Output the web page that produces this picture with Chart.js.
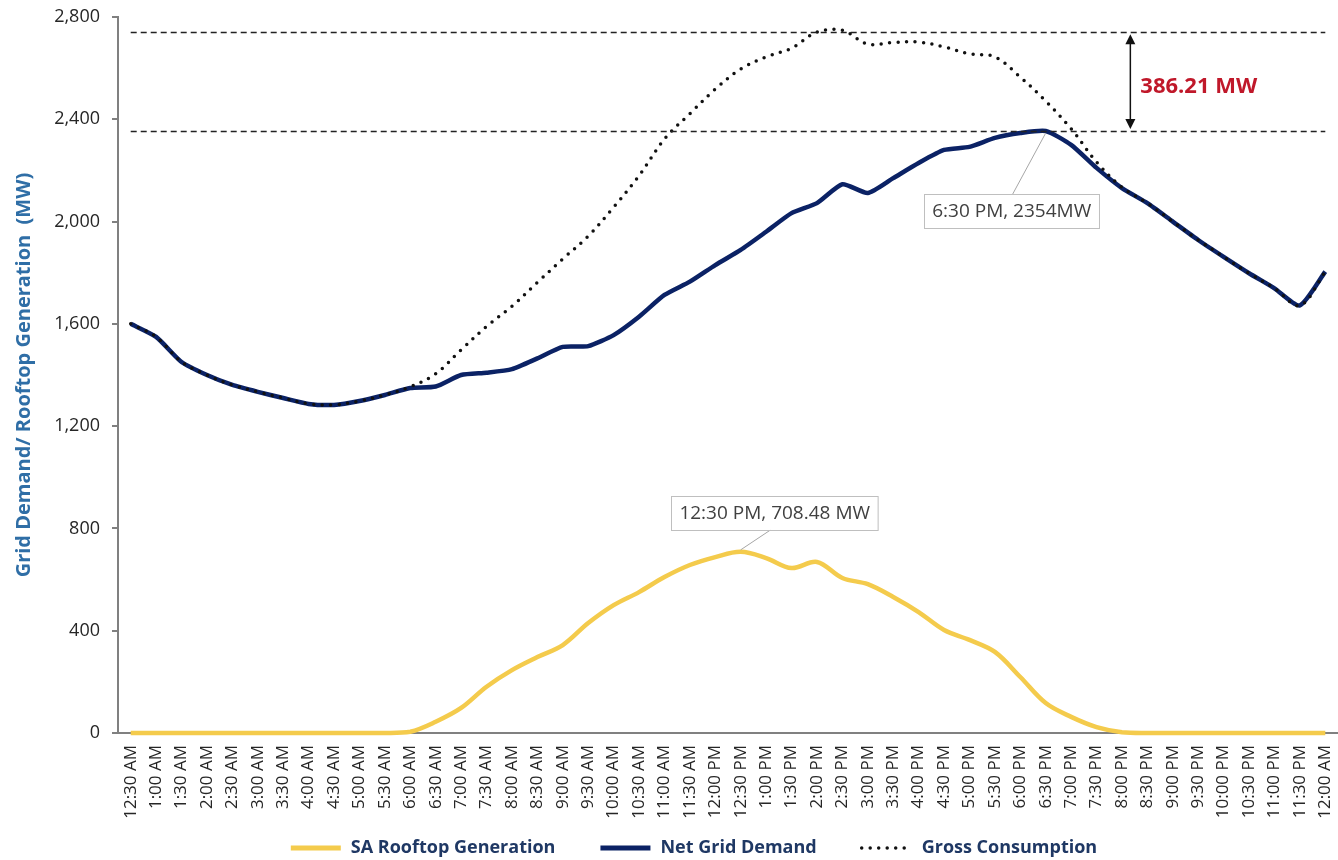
<!DOCTYPE html>
<html>
<head>
<meta charset="utf-8">
<script src="https://cdn.jsdelivr.net/npm/chart.js@4.4.1/dist/chart.umd.min.js"></script>
<style>
html, body { margin: 0; padding: 0; background: #fff; }
#caja { width: 1338px; height: 860px; position: relative; }
</style>
</head>
<body>
<div id="caja"><canvas id="grafico"></canvas></div>
<script>
// Datos
const horas = [
    '12:30 AM', '1:00 AM', '1:30 AM', '2:00 AM', '2:30 AM', '3:00 AM', '3:30 AM', '4:00 AM',
    '4:30 AM', '5:00 AM', '5:30 AM', '6:00 AM', '6:30 AM', '7:00 AM', '7:30 AM', '8:00 AM',
    '8:30 AM', '9:00 AM', '9:30 AM', '10:00 AM', '10:30 AM', '11:00 AM', '11:30 AM', '12:00 PM',
    '12:30 PM', '1:00 PM', '1:30 PM', '2:00 PM', '2:30 PM', '3:00 PM', '3:30 PM', '4:00 PM',
    '4:30 PM', '5:00 PM', '5:30 PM', '6:00 PM', '6:30 PM', '7:00 PM', '7:30 PM', '8:00 PM',
    '8:30 PM', '9:00 PM', '9:30 PM', '10:00 PM', '10:30 PM', '11:00 PM', '11:30 PM', '12:00 AM'
];

const techoSolar = [
    0, 0, 0, 0, 0, 0, 0, 0, 0, 0, 0, 5,
    44, 98, 181, 246, 297, 344, 430, 500, 551, 610, 657, 688,
    708.48, 684, 645, 669, 606, 582, 532, 473, 403, 364, 317, 219,
    117, 63, 23, 3, 0, 0, 0, 0, 0, 0, 0, 0
];

const demandaNeta = [
    1600, 1549, 1451, 1400, 1361, 1334, 1310, 1287, 1283, 1298, 1322, 1349,
    1355, 1400, 1409, 1423, 1465, 1510, 1513, 1556, 1628, 1713, 1765, 1830,
    1889, 1960, 2033, 2072, 2146, 2112, 2170, 2229, 2280, 2292, 2327, 2346,
    2354, 2300, 2210, 2131, 2072, 2000, 1928, 1862, 1798, 1739, 1672, 1804
];

const consumoBruto = [
    1600, 1549, 1451, 1400, 1361, 1334, 1310, 1287, 1283, 1298, 1322, 1354,
    1405, 1498, 1590, 1669, 1762, 1854, 1943, 2056, 2179, 2323, 2422, 2518,
    2597, 2644, 2678, 2741, 2748, 2694, 2700, 2702, 2683, 2656, 2644, 2565,
    2471, 2363, 2233, 2134, 2072, 2000, 1928, 1862, 1798, 1739, 1672, 1804
];

const ticksY = [0, 400, 800, 1200, 1600, 2000, 2400, 2800];
const nombresSerie = ['SA Rooftop Generation', 'Net Grid Demand', 'Gross Consumption'];
const tituloY = 'Grid Demand/ Rooftop Generation  (MW)';

const picoDemanda = { hora: '6:30 PM', valor: 2354, texto: '6:30 PM, 2354MW' };
const picoSolar = { hora: '12:30 PM', valor: 708.48, texto: '12:30 PM, 708.48 MW' };
const picoBruto = 2740.21;
const diferencia = '386.21 MW';

const colorSolar = '#F4CB4C';
const colorNeta = '#0B2265';
const colorBruto = '#111111';
const fuente = "'Open Sans', 'DejaVu Sans', sans-serif";

function cajaTexto(ctx, texto, cx, cy) {
    ctx.font = '19px ' + fuente;
    const w = ctx.measureText(texto).width + 16;
    const h = 34;
    ctx.fillStyle = '#fff';
    ctx.fillRect(cx - w / 2, cy - h / 2, w, h);
    ctx.strokeStyle = '#BFBFBF';
    ctx.lineWidth = 1;
    ctx.setLineDash([]);
    ctx.strokeRect(Math.round(cx - w / 2) + 0.5, Math.round(cy - h / 2) + 0.5, w, h);
    ctx.fillStyle = '#404040';
    ctx.textAlign = 'center';
    ctx.textBaseline = 'middle';
    ctx.fillText(texto, cx, cy + 1);
}

const anotaciones = {
    id: 'anotaciones',
    afterDatasetsDraw(chart) {
        const ctx = chart.ctx;
        const x = chart.scales.x;
        const y = chart.scales.y;
        const x0 = x.getPixelForValue(0);
        const x1 = x.getPixelForValue(horas.length - 1);
        const yAlto = y.getPixelForValue(picoBruto);
        const yPico = y.getPixelForValue(picoDemanda.valor);
        ctx.save();

        // lineas punteadas de referencia
        ctx.strokeStyle = '#222';
        ctx.lineWidth = 1.5;
        ctx.setLineDash([6, 4]);
        [yAlto, yPico].forEach(function (yy) {
            ctx.beginPath();
            ctx.moveTo(x0, Math.round(yy) + 0.5);
            ctx.lineTo(x1, Math.round(yy) + 0.5);
            ctx.stroke();
        });
        ctx.setLineDash([]);

        // flecha doble
        const xf = x.getPixelForValue(39.33);
        ctx.strokeStyle = '#111';
        ctx.fillStyle = '#111';
        ctx.lineWidth = 1.5;
        ctx.beginPath();
        ctx.moveTo(xf, yAlto + 8);
        ctx.lineTo(xf, yPico - 8);
        ctx.stroke();
        ctx.beginPath();
        ctx.moveTo(xf, yAlto + 2);
        ctx.lineTo(xf - 5, yAlto + 12);
        ctx.lineTo(xf + 5, yAlto + 12);
        ctx.closePath();
        ctx.fill();
        ctx.beginPath();
        ctx.moveTo(xf, yPico - 2);
        ctx.lineTo(xf - 5, yPico - 12);
        ctx.lineTo(xf + 5, yPico - 12);
        ctx.closePath();
        ctx.fill();

        ctx.font = 'bold 22px ' + fuente;
        ctx.fillStyle = '#C0182A';
        ctx.textAlign = 'left';
        ctx.textBaseline = 'middle';
        ctx.fillText(diferencia, xf + 10, (yAlto + yPico) / 2 + 5);

        // llamadas de los picos
        const pd = { x: x.getPixelForValue(horas.indexOf(picoDemanda.hora)), y: yPico };
        const ps = { x: x.getPixelForValue(horas.indexOf(picoSolar.hora)), y: y.getPixelForValue(picoSolar.valor) };
        ctx.strokeStyle = '#A6A6A6';
        ctx.lineWidth = 1;
        ctx.beginPath();
        ctx.moveTo(pd.x, pd.y + 2);
        ctx.lineTo(pd.x - 33, pd.y + 63);
        ctx.moveTo(ps.x, ps.y - 2);
        ctx.lineTo(ps.x + 30, ps.y - 22);
        ctx.stroke();
        cajaTexto(ctx, picoDemanda.texto, pd.x - 34, pd.y + 80);
        cajaTexto(ctx, picoSolar.texto, ps.x + 34, ps.y - 39);
        ctx.restore();
    },
    afterDraw(chart) {
        // leyenda propia
        const ctx = chart.ctx;
        const estilos = [
            { color: colorSolar, ancho: 5, dash: [], cap: 'butt' },
            { color: colorNeta, ancho: 5, dash: [], cap: 'butt' },
            { color: colorBruto, ancho: 3.5, dash: [0, 8.5], cap: 'round' }
        ];
        ctx.save();
        ctx.font = 'bold 18px ' + fuente;
        const anchos = nombresSerie.map(n => ctx.measureText(n).width);
        const total = anchos.reduce((a, b) => a + b, 0) + nombresSerie.length * 62 + (nombresSerie.length - 1) * 43;
        let px = 693 - total / 2;
        const py = 848;
        nombresSerie.forEach(function (n, i) {
            const e = estilos[i];
            ctx.strokeStyle = e.color;
            ctx.lineWidth = e.ancho;
            ctx.lineCap = e.cap;
            ctx.setLineDash(e.dash);
            ctx.beginPath();
            ctx.moveTo(px + 2, py);
            ctx.lineTo(px + 52, py);
            ctx.stroke();
            ctx.setLineDash([]);
            ctx.fillStyle = '#1F3864';
            ctx.textAlign = 'left';
            ctx.textBaseline = 'middle';
            ctx.fillText(n, px + 62, py);
            px += 62 + anchos[i] + 43;
        });
        ctx.restore();
    }
};

new Chart(document.getElementById('grafico').getContext('2d'), {
    type: 'line',
    data: {
        labels: horas,
        datasets: [{
            label: nombresSerie[0],
            data: techoSolar,
            borderColor: colorSolar,
            borderWidth: 4.5,
            tension: 0.35,
            pointRadius: 0,
            clip: 8,
            order: 2
        }, {
            label: nombresSerie[1],
            data: demandaNeta,
            borderColor: colorNeta,
            borderWidth: 4.5,
            tension: 0.2,
            pointRadius: 0,
            clip: 8,
            order: 1
        }, {
            label: nombresSerie[2],
            data: consumoBruto,
            borderColor: colorBruto,
            borderWidth: 3.5,
            borderDash: [0, 8.5],
            borderCapStyle: 'round',
            tension: 0.35,
            pointRadius: 0,
            clip: 8,
            order: 0
        }]
    },
    options: {
        responsive: true,
        maintainAspectRatio: false,
        animation: false,
        layout: { padding: { top: 17, right: -3, bottom: 40, left: 0 } },
        plugins: {
            legend: { display: false },
            tooltip: { enabled: false }
        },
        scales: {
            x: {
                offset: true,
                grid: { display: false, drawTicks: false },
                border: { display: true, color: '#808080', width: 2 },
                ticks: {
                    autoSkip: false,
                    minRotation: 90,
                    maxRotation: 90,
                    padding: 12,
                    color: '#262626',
                    font: { family: fuente, size: 17 }
                },
                afterFit: function (scale) {
                    scale.height = 87;
                    scale.paddingLeft = 0;
                    scale.paddingRight = 0;
                }
            },
            y: {
                min: 0,
                max: 2800,
                afterBuildTicks: function (scale) {
                    scale.ticks = ticksY.map(v => ({ value: v }));
                },
                grid: { display: true, drawOnChartArea: false, drawTicks: true, tickLength: 6, color: '#808080', lineWidth: 2 },
                border: { display: true, color: '#808080', width: 2 },
                ticks: {
                    padding: 12,
                    color: '#262626',
                    font: { family: fuente, size: 18 },
                    callback: function (v) { return Number(v).toLocaleString('en-US'); }
                },
                title: {
                    display: true,
                    text: tituloY,
                    color: '#2F6EA6',
                    padding: { top: 12, bottom: 0 },
                    font: { family: fuente, size: 20, weight: 'bold' }
                },
                afterFit: function (scale) {
                    scale.width = 118;
                    scale.paddingTop = 0;
                    scale.paddingBottom = 0;
                }
            }
        }
    },
    plugins: [anotaciones]
});
</script>
</body>
</html>
